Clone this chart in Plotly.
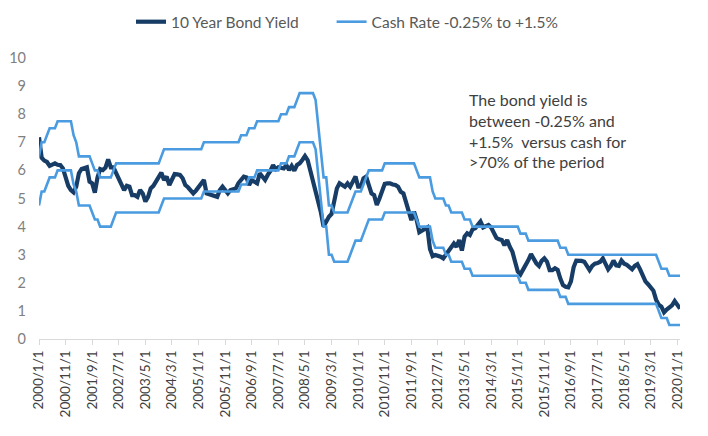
import plotly.graph_objects as go

# Monthly categories 2000/1/1 .. 2020/2/1
months = [f"{y}/{m}/1" for y in range(2000, 2021) for m in range(1, 13)][:242]

# 10 Year Bond Yield (%), monthly
bond_yield = [
    7.18, 6.45, 6.35, 6.30, 6.16, 6.22, 6.25, 6.20, 6.19, 6.07, 5.78, 5.45,
    5.30, 5.22, 5.42, 5.90, 6.05, 6.10, 6.11, 5.60, 5.54, 5.21, 5.75, 6.05,
    6.01, 6.10, 6.39, 6.11, 6.11, 5.90, 5.70, 5.55, 5.30, 5.45, 5.42, 5.12,
    5.12, 5.06, 5.30, 5.18, 4.89, 5.06, 5.36, 5.45, 5.60, 5.78, 5.92, 5.66,
    5.78, 5.48, 5.70, 5.87, 5.86, 5.84, 5.72, 5.48, 5.40, 5.30, 5.18, 5.28,
    5.40, 5.55, 5.66, 5.18, 5.15, 5.12, 5.08, 5.06, 5.30, 5.42, 5.30, 5.18,
    5.30, 5.32, 5.36, 5.55, 5.70, 5.78, 5.75, 5.48, 5.65, 5.60, 5.54, 5.90,
    5.75, 5.66, 5.84, 5.98, 6.19, 6.04, 6.11, 6.09, 6.07, 6.19, 6.01, 6.16,
    5.99, 6.19, 6.25, 6.37, 6.51, 6.37, 6.01, 5.66, 5.36, 5.00, 4.50, 4.00,
    4.18, 4.35, 4.45, 4.83, 5.36, 5.54, 5.50, 5.42, 5.54, 5.42, 5.60, 5.78,
    5.42, 5.42, 5.72, 5.78, 5.48, 5.18, 5.12, 4.77, 5.00, 5.30, 5.52, 5.54,
    5.54, 5.50, 5.48, 5.42, 5.24, 5.18, 4.89, 4.53, 4.23, 4.53, 4.23, 3.80,
    3.85, 3.92, 3.97, 3.20, 2.95, 2.99, 2.97, 2.93, 2.87, 2.99, 3.11, 3.28,
    3.40, 3.28, 3.52, 3.15, 3.64, 3.76, 3.70, 3.90, 3.94, 4.06, 4.18, 3.97,
    4.03, 4.06, 3.97, 3.80, 3.60, 3.55, 3.52, 3.34, 3.52, 3.28, 3.10, 2.75,
    2.40, 2.30, 2.45, 2.63, 2.81, 3.02, 2.81, 2.69, 2.60, 2.78, 2.87, 2.75,
    2.45, 2.45, 2.52, 2.46, 2.15, 1.92, 1.86, 1.84, 2.05, 2.55, 2.79, 2.79,
    2.78, 2.75, 2.63, 2.45, 2.60, 2.68, 2.70, 2.75, 2.87, 2.63, 2.48, 2.60,
    2.79, 2.62, 2.60, 2.79, 2.68, 2.64, 2.55, 2.48, 2.60, 2.66, 2.48, 2.25,
    2.05, 1.95, 1.80, 1.72, 1.40, 1.22, 1.15, 0.95, 1.05, 1.12, 1.20, 1.35,
    1.18, 1.08,
]

# RBA cash rate (%), monthly
cash_rate = [
    5.00, 5.50, 5.50, 5.75, 6.00, 6.00, 6.00, 6.25, 6.25, 6.25, 6.25, 6.25,
    6.25, 5.75, 5.50, 5.00, 5.00, 5.00, 5.00, 5.00, 4.75, 4.50, 4.50, 4.25,
    4.25, 4.25, 4.25, 4.25, 4.50, 4.75, 4.75, 4.75, 4.75, 4.75, 4.75, 4.75,
    4.75, 4.75, 4.75, 4.75, 4.75, 4.75, 4.75, 4.75, 4.75, 4.75, 5.00, 5.25,
    5.25, 5.25, 5.25, 5.25, 5.25, 5.25, 5.25, 5.25, 5.25, 5.25, 5.25, 5.25,
    5.25, 5.25, 5.50, 5.50, 5.50, 5.50, 5.50, 5.50, 5.50, 5.50, 5.50, 5.50,
    5.50, 5.50, 5.50, 5.50, 5.75, 5.75, 5.75, 6.00, 6.00, 6.00, 6.25, 6.25,
    6.25, 6.25, 6.25, 6.25, 6.25, 6.25, 6.25, 6.50, 6.50, 6.50, 6.75, 6.75,
    6.75, 7.00, 7.25, 7.25, 7.25, 7.25, 7.25, 7.25, 7.00, 6.00, 5.25, 4.25,
    4.25, 3.25, 3.25, 3.00, 3.00, 3.00, 3.00, 3.00, 3.00, 3.25, 3.50, 3.75,
    3.75, 3.75, 4.00, 4.25, 4.50, 4.50, 4.50, 4.50, 4.50, 4.50, 4.75, 4.75,
    4.75, 4.75, 4.75, 4.75, 4.75, 4.75, 4.75, 4.75, 4.75, 4.75, 4.50, 4.25,
    4.25, 4.25, 4.25, 4.25, 3.75, 3.50, 3.50, 3.50, 3.50, 3.25, 3.25, 3.00,
    3.00, 3.00, 3.00, 3.00, 2.75, 2.75, 2.75, 2.50, 2.50, 2.50, 2.50, 2.50,
    2.50, 2.50, 2.50, 2.50, 2.50, 2.50, 2.50, 2.50, 2.50, 2.50, 2.50, 2.50,
    2.50, 2.25, 2.25, 2.25, 2.00, 2.00, 2.00, 2.00, 2.00, 2.00, 2.00, 2.00,
    2.00, 2.00, 2.00, 2.00, 1.75, 1.75, 1.75, 1.50, 1.50, 1.50, 1.50, 1.50,
    1.50, 1.50, 1.50, 1.50, 1.50, 1.50, 1.50, 1.50, 1.50, 1.50, 1.50, 1.50,
    1.50, 1.50, 1.50, 1.50, 1.50, 1.50, 1.50, 1.50, 1.50, 1.50, 1.50, 1.50,
    1.50, 1.50, 1.50, 1.50, 1.50, 1.25, 1.00, 1.00, 1.00, 0.75, 0.75, 0.75,
    0.75, 0.75,
]

band_low_offset = -0.25
band_high_offset = 1.5
band_upper = [c + band_high_offset for c in cash_rate]
band_lower = [c + band_low_offset for c in cash_rate]

tick_labels = months[::10]

NAVY = "#173C66"
BLUE = "#4A9BE0"
PAD = "\u00a0" * 7  # extra gap between legend entries

fig = go.Figure()
fig.add_trace(go.Scatter(
    x=months, y=bond_yield, mode="lines", name="10 Year Bond Yield" + PAD,
    line=dict(color=NAVY, width=4.2), legendgroup="bond",
))
fig.add_trace(go.Scatter(
    x=months, y=band_upper, mode="lines", name="Cash Rate -0.25% to +1.5%",
    line=dict(color=BLUE, width=2.6), legendgroup="cash",
))
fig.add_trace(go.Scatter(
    x=months, y=band_lower, mode="lines", name="Cash Rate -0.25% to +1.5%",
    line=dict(color=BLUE, width=2.6), legendgroup="cash", showlegend=False,
))

fig.add_annotation(
    xref="paper", yref="paper", x=0.667, y=0.893, xanchor="left", yanchor="top",
    text="The bond yield is<br>between -0.25% and<br>+1.5%  versus cash for<br>>70% of the period",
    showarrow=False, align="left",
    font=dict(family="Lato", size=16, color="#404040"),
)

# page body has an 8px margin, so the figure is sized 700x428
fig.update_layout(
    width=700, height=428,
    margin=dict(l=31, r=28, t=50, b=97, autoexpand=False),
    paper_bgcolor="white", plot_bgcolor="white",
    font=dict(family="Lato", color="#595959"),
    showlegend=True,
    legend=dict(
        orientation="h", xref="container", x=0.4843, xanchor="center",
        yref="container", y=0.967, yanchor="middle",
        font=dict(family="Lato", size=15.5, color="#595959"),
        bgcolor="rgba(0,0,0,0)",
    ),
    xaxis=dict(
        type="category", range=[0, 241], automargin=False,
        tickmode="array", tickvals=tick_labels, ticktext=tick_labels,
        tickangle=-90, ticks="outside", ticklen=5, tickcolor="#d9d9d9",
        showline=True, linecolor="#d9d9d9", linewidth=1,
        showgrid=False, zeroline=False,
        tickfont=dict(family="Lato", size=13.5, color="#404040"),
    ),
    yaxis=dict(
        range=[0, 10], dtick=1, tick0=0, automargin=False,
        showgrid=False, zeroline=False, showline=False,
        ticks="", ticklabelstandoff=12,
        tickfont=dict(family="Lato", size=14.5, color="#808080"),
    ),
)

fig.write_html("out.html")
